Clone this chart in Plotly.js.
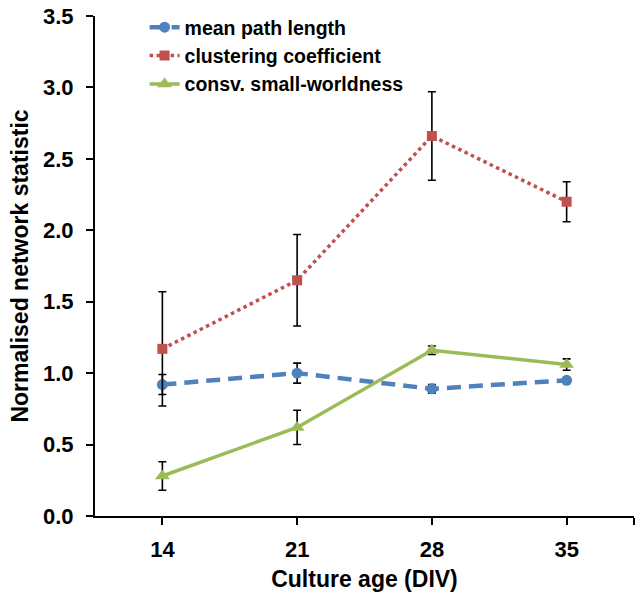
<!DOCTYPE html>
<html>
<head>
<meta charset="utf-8">
<script src="https://cdn.plot.ly/plotly-3.0.1.min.js"></script>
<style>html,body{margin:0;padding:0;background:#fff;}#chart{width:644px;height:609px;}</style>
</head>
<body>
<div id="chart"></div>
<script>
const cultureAge = [14, 21, 28, 35];
const meanPathLength = [0.92, 1.00, 0.89, 0.95];
const meanPathLengthErr = [0.07, 0.07, 0.03, 0.01];
const clusteringCoeff = [1.17, 1.65, 2.66, 2.20];
const clusteringCoeffErr = [0.40, 0.32, 0.31, 0.14];
const smallWorldness = [0.28, 0.62, 1.16, 1.06];
const smallWorldnessErr = [0.10, 0.12, 0.03, 0.04];
const xTickVals = [14, 21, 28, 35, 38.5];
const xTickText = ['14', '21', '28', '35', ''];
const yTickVals = [0, 0.5, 1.0, 1.5, 2.0, 2.5, 3.0, 3.5];
const yTickText = ['0.0', '0.5', '1.0', '1.5', '2.0', '2.5', '3.0', '3.5'];

const FONT = 'Liberation Sans, Arial, Helvetica, sans-serif';
const errStyle = {type: 'data', visible: true, color: '#000', thickness: 1.6, width: 4};

const traces = [
  {
    x: cultureAge, y: meanPathLength, name: 'mean path length', type: 'scatter', mode: 'lines+markers',
    line: {color: '#4F81BD', width: 4.5, dash: '14px,8px'},
    marker: {symbol: 'circle', size: 11, color: '#4F81BD'},
    error_y: Object.assign({array: meanPathLengthErr}, errStyle)
  },
  {
    x: cultureAge, y: clusteringCoeff, name: 'clustering coefficient', type: 'scatter', mode: 'lines+markers',
    line: {color: '#C0504D', width: 3.5, dash: 'dot'},
    marker: {symbol: 'square', size: 10, color: '#C0504D'},
    error_y: Object.assign({array: clusteringCoeffErr}, errStyle)
  },
  {
    x: cultureAge, y: smallWorldness, name: 'consv. small-worldness', type: 'scatter', mode: 'lines+markers',
    line: {color: '#9BBB59', width: 3.5},
    marker: {symbol: 'triangle-up', size: 13, color: '#9BBB59'},
    error_y: Object.assign({array: smallWorldnessErr}, errStyle)
  }
];

const layout = {
  width: 644, height: 609,
  margin: {l: 95, r: 10, t: 16, b: 93, autoexpand: false},
  paper_bgcolor: '#fff', plot_bgcolor: '#fff',
  font: {family: FONT, color: '#000'},
  showlegend: true,
  legend: {
    x: 0.092, y: 1.016, xanchor: 'left', yanchor: 'top',
    bgcolor: 'rgba(0,0,0,0)', borderwidth: 0,
    font: {family: FONT, size: 19.5, color: '#000', weight: 'bold'},
    tracegroupgap: 0
  },
  xaxis: {
    range: [10.5, 38.5],
    tickmode: 'array', tickvals: xTickVals, ticktext: xTickText,
    showgrid: false, zeroline: false,
    showline: true, linecolor: '#000', linewidth: 2,
    ticks: 'outside', ticklen: 7, tickwidth: 2, tickcolor: '#000',
    ticklabelstandoff: 6,
    tickfont: {family: FONT, size: 22, color: '#000', weight: 'bold'},
    title: {text: 'Culture age (DIV)', font: {family: FONT, size: 23, color: '#000', weight: 'bold'}, standoff: 9}
  },
  yaxis: {
    range: [0, 3.5],
    tickmode: 'array', tickvals: yTickVals, ticktext: yTickText,
    showgrid: false, zeroline: false,
    showline: true, linecolor: '#000', linewidth: 2,
    ticks: 'outside', ticklen: 7, tickwidth: 2, tickcolor: '#000',
    ticklabelstandoff: 8,
    tickfont: {family: FONT, size: 22, color: '#000', weight: 'bold'},
    title: {text: 'Normalised network statistic', font: {family: FONT, size: 23, color: '#000', weight: 'bold'}, standoff: 8}
  }
};

Plotly.newPlot('chart', traces, layout, {displayModeBar: false, staticPlot: true});
</script>
</body>
</html>
